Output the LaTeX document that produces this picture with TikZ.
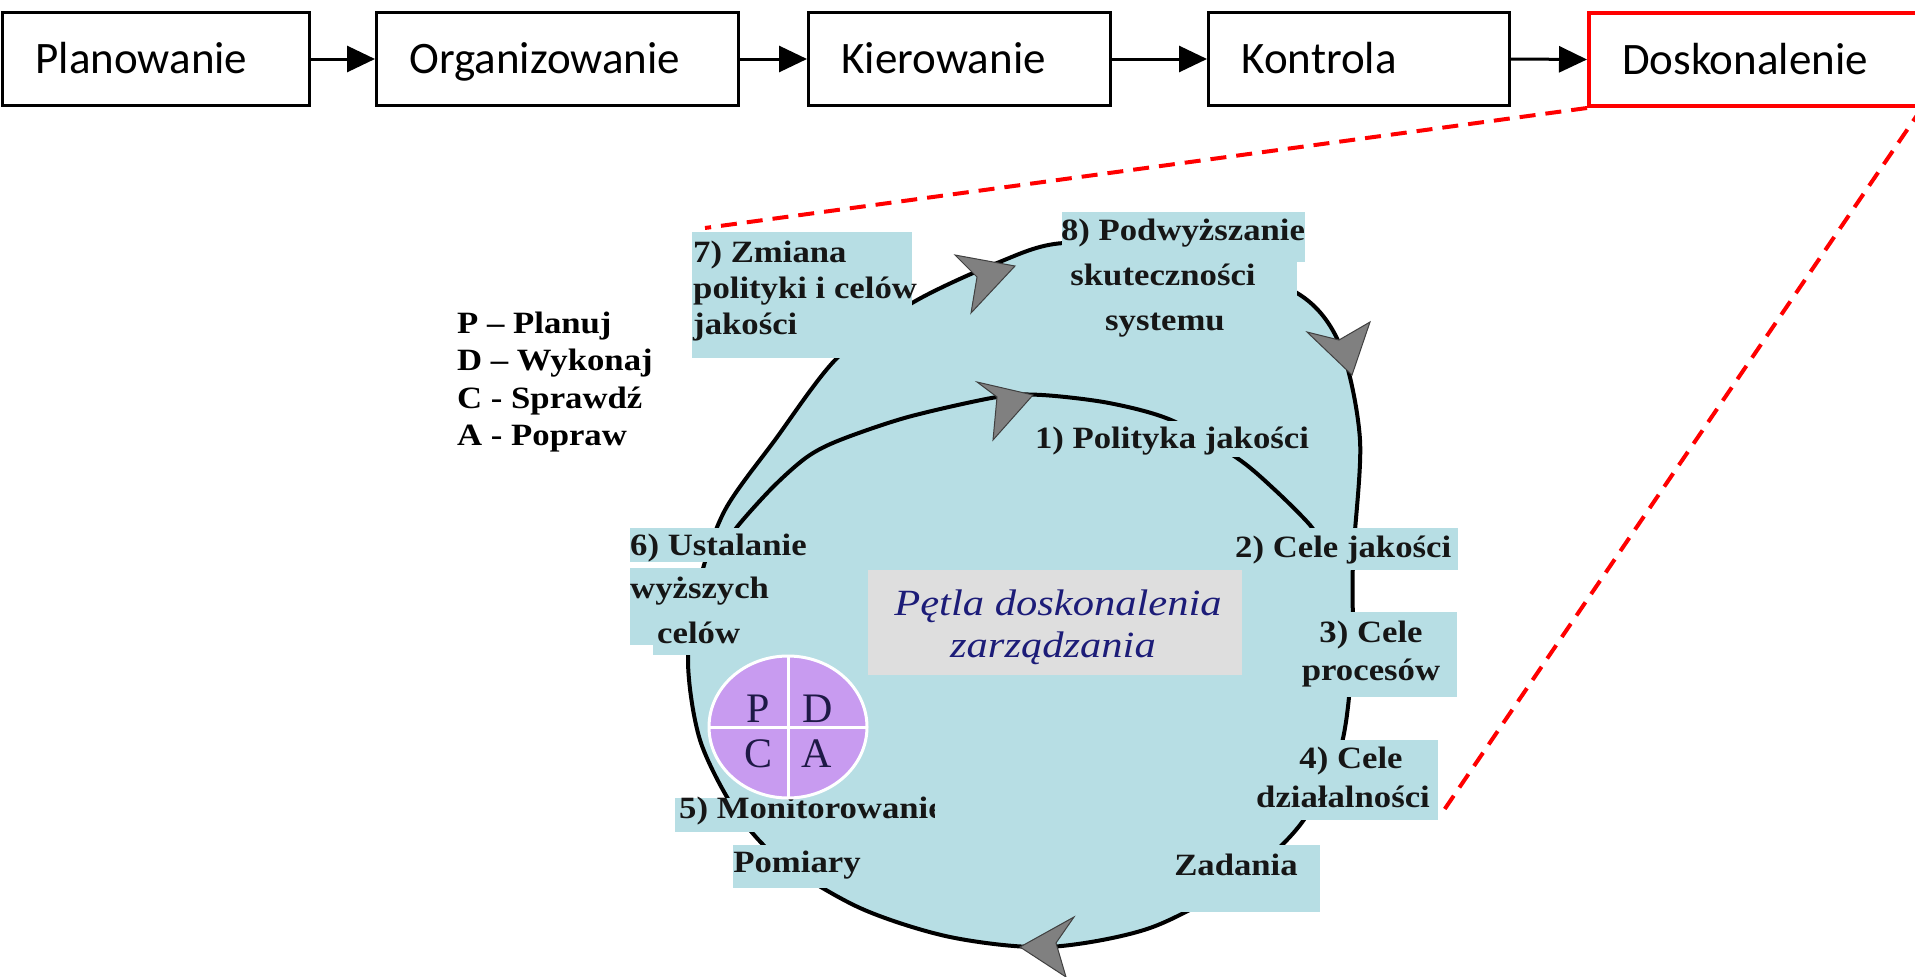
\documentclass[tikz,border=0pt]{standalone}
\usepackage{fontspec}
\setmainfont{Liberation Serif}
\newfontfamily\stagefont{Carlito}
\newfontfamily\cyclefont[FakeStretch=1.12]{Liberation Serif}
\newfontfamily\titlefont[FakeStretch=1.15]{Liberation Serif}
\usetikzlibrary{arrows.meta}

\definecolor{loopblue}{RGB}{183,222,228}
\definecolor{titlegrey}{RGB}{222,222,222}
\definecolor{titlenavy}{RGB}{28,28,120}
\definecolor{pdcafill}{RGB}{200,155,240}
\definecolor{pdcatext}{RGB}{30,25,70}
\definecolor{headgrey}{RGB}{128,128,128}
\definecolor{txtdark}{RGB}{22,22,22}

\begin{document}
\begin{tikzpicture}[x=1pt,y=-1pt,
  stagebox/.style={draw=black, line width=3pt, anchor=north west,
    minimum height=93pt, inner xsep=33pt, inner ysep=0pt, align=left,
    text height=29pt, text depth=0pt,
    font=\stagefont\fontsize{45}{54}\selectfont},
  flow/.style={line width=3pt, -{Triangle[length=28pt,width=26pt]}},
  zoomline/.style={red, line width=4pt, dash pattern=on 16pt off 10pt},
  lbl/.style={anchor=base west, inner sep=0pt, text=txtdark,
    font=\cyclefont\bfseries\fontsize{31}{37}\selectfont},
  lblc/.style={lbl, anchor=base},
  legend/.style={lbl, text=black},
  ttl/.style={anchor=base, inner sep=0pt, text=titlenavy,
    font=\titlefont\itshape\fontsize{37}{44}\selectfont},
  pdcaletter/.style={inner sep=0pt, text=pdcatext,
    font=\rmfamily\fontsize{42}{48}\selectfont},
  loopline/.style={line width=4pt, black},
  head/.style={fill=headgrey, draw=black!75, line width=1pt, line join=miter},
]
\useasboundingbox (0,0) rectangle (1915,977);

% ---------- management functions ----------
\node[stagebox, minimum width=307pt, text width=241pt] (s1) at (1,11) {Planowanie};
\node[stagebox, minimum width=362pt, text width=296pt] (s2) at (375,11) {Organizowanie};
\node[stagebox, minimum width=302pt, text width=236pt] (s3) at (807,11) {Kierowanie};
\node[stagebox, minimum width=301pt, text width=235pt] (s4) at (1207,11) {Kontrola};
\node[stagebox, draw=red, line width=4pt, minimum width=331pt, text width=265pt] (s5) at (1587,11) {Doskonalenie};

\draw[flow] (s1.east) -- (s2.west);
\draw[flow] (s2.east) -- (s3.west);
\draw[flow] (s3.east) -- (s4.west);
\draw[flow] (s4.east) -- (s5.west);

% ---------- improvement loop: background and outer spiral ----------
\draw[loopline, fill=loopblue] plot[smooth cycle] coordinates {
  (912,303) (997,263) (1064,243) (1185,252) (1297,293) (1340,345)
  (1360,440) (1353,560) (1352,660) (1340,750) (1300,825) (1240,880)
  (1150,928) (1048,947) (950,937) (860,908) (780,860) (735,810)
  (700,740) (688,660) (700,580) (725,510) (775,440) (837,358)};

% inner loop
\draw[loopline] plot[smooth] coordinates {
  (722,552) (737,527) (773,487) (807,457) (840,440) (908,417)
  (997,397) (1042,395) (1109,403) (1171,420) (1237,458) (1275,490)
  (1310,525) (1322,545)};

% label backgrounds
\fill[loopblue] (692,232) rectangle (912,358);
\fill[loopblue] (1062,212) rectangle (1305,262);
\fill[loopblue] (1062,262) rectangle (1297,300);
\fill[loopblue] (1040,421) rectangle (1302,457);
\fill[loopblue] (1230,528) rectangle (1458,570);
\fill[loopblue] (1300,612) rectangle (1457,697);
\fill[loopblue] (1245,740) rectangle (1438,820);
\fill[loopblue] (1160,845) rectangle (1320,912);
\fill[loopblue] (675,798) rectangle (934,832);
\fill[loopblue] (733,845) rectangle (860,888);
\fill[loopblue] (630,528) rectangle (800,562);
\fill[loopblue] (630,568) rectangle (762,645);
\fill[loopblue] (653,620) rectangle (762,655);

% title panel
\node[fill=titlegrey, anchor=north west, minimum width=374pt, minimum height=105pt, inner sep=0pt] (ttlbox) at (868,570) {};
\node[ttl] (ttl1) at (1058,615) {Pętla doskonalenia};
\node[ttl] (ttl2) at (1053,657) {zarządzania};

% labels of the loop
\node[lbl] (l7a) at (693,262) {7) Zmiana};
\node[lbl] (l7b) at (693,298) {polityki i celów};
\node[lbl] (l7c) at (693,334) {jakości};

\node[lblc] (l8a) at (1183,240) {8) Podwyższanie};
\node[lblc] (l8b) at (1163,285) {skuteczności};
\node[lblc] (l8c) at (1165,330) {systemu};

\node[lblc] (l1) at (1172,448) {1) Polityka jakości};
\node[lbl] (l2) at (1235,557) {2) Cele jakości};

\node[lblc] (l3a) at (1371,642) {3) Cele};
\node[lblc] (l3b) at (1371,680) {procesów};

\node[lblc] (l4a) at (1351,768) {4) Cele};
\node[lblc] (l4b) at (1343,807) {działalności};

\node[lblc] (lz) at (1236,875) {Zadania};

\begin{scope}
  \clip (675,790) rectangle (934,840);
  \node[lbl] (l5a) at (679,818) {5) Monitorowanie};
\end{scope}
\node[lblc] (l5b) at (797,872) {Pomiary};

\node[lbl] (l6a) at (630,555) {6) Ustalanie};
\node[lbl] (l6b) at (630,598) {wyższych};
\node[lbl] (l6c) at (657,643) {celów};

% arrowheads on the loops
\filldraw[head] (1015,266) -- (955,255) -- (977,277) -- (971,313) -- cycle;
\filldraw[head] (1352,375) -- (1370,322) -- (1339,340) -- (1307,332) -- cycle;
\filldraw[head] (1033,395) -- (977,382) -- (997,397) -- (993,440) -- cycle;
\filldraw[head] (1020,947) -- (1074,917) -- (1056,943) -- (1066,977) -- cycle;

% PDCA wheel
\draw[white, line width=3pt, fill=pdcafill] (788,727) ellipse [x radius=79, y radius=71];
\draw[white, line width=3pt] (788,656) -- (788,798);
\draw[white, line width=3pt] (709,727) -- (867,727);
\node[pdcaletter] (pp) at (758,709) {P};
\node[pdcaletter] (pd) at (818,709) {D};
\node[pdcaletter] (pc) at (758,754) {C};
\node[pdcaletter] (pa) at (817,754) {A};

% legend
\node[legend] (g1) at (457,333) {P – Planuj};
\node[legend] (g2) at (457,370) {D – Wykonaj};
\node[legend] (g3) at (457,408) {C - Sprawdź};
\node[legend] (g4) at (457,445) {A - Popraw};

% zoom lines from the highlighted stage
\coordinate (zoomA) at (705,228);
\coordinate (zoomB) at (1442,813);
\draw[zoomline] (s5.south west) -- (zoomA);
\draw[zoomline] (s5.south east) -- (zoomB);
\end{tikzpicture}
\end{document}
